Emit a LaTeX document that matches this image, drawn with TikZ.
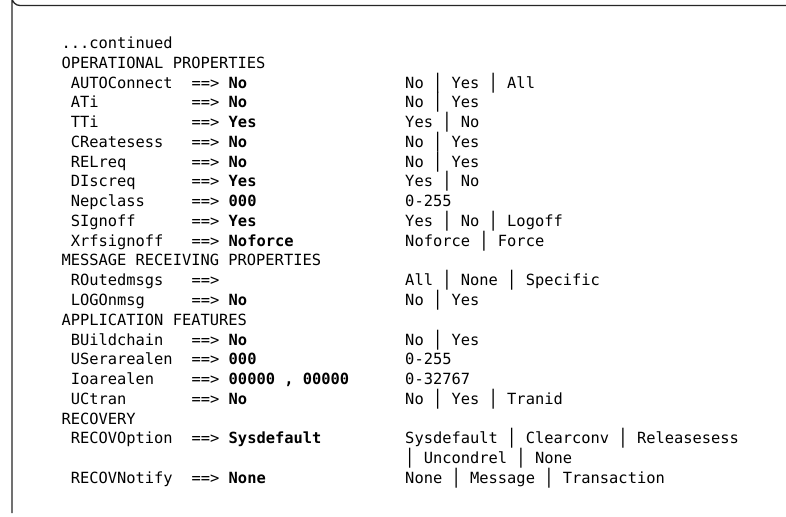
\documentclass[tikz,border=0pt]{standalone}
\usepackage{fontspec}
\usepackage{graphicx}
\newfontfamily\mono{DejaVu Sans Mono}
% column grid of the fixed-pitch listing
\newcommand\cx[1]{61.5+#1*9.29}
\newcommand\by[1]{48.5+#1*19.77}
% tall separator bar, so bars on neighbouring lines meet
\newcommand\vb{\scalebox{1}[1.3]{|}}
\tikzset{
  txt/.style={anchor=base west,inner sep=0pt,outer sep=0pt,font=\mono\fontsize{15.4}{18}\selectfont},
  val/.style={txt,font=\mono\bfseries\fontsize{15.4}{18}\selectfont},
  frame/.style={line width=1.3pt,black!85}
}
% one property line: row, name, current value, allowed values, node prefix
\newcommand\propline[5]{%
  \node[txt] (#5-name) at ({\cx{1}},{\by{#1}}) {#2};
  \node[txt] (#5-arrow) at ({\cx{14}},{\by{#1}}) {==>};
  \node[val] (#5-value) at ({\cx{18}},{\by{#1}}) {#3};
  \node[txt] (#5-opts) at ({\cx{37}},{\by{#1}}) {#4};
}
\newcommand\heading[3]{%
  \node[txt] (#3) at ({\cx{0}},{\by{#1}}) {#2};
}
\begin{document}
\begin{tikzpicture}[x=1pt,y=-1pt]
\useasboundingbox (0,0) rectangle (786,516);
\fill[white] (0,0) rectangle (786,516);

% open frame: top rule and left rule joined by a rounded corner
\draw[frame] (786,5.5) -- (20,5.5) arc[start angle=90,end angle=180,radius=8] -- (12,513);

\heading{0}{...continued}{cont}
\heading{1}{OPERATIONAL PROPERTIES}{secop}
\propline{2}{AUTOConnect}{No}{No \vb{} Yes \vb{} All}{autoc}
\propline{3}{ATi}{No}{No \vb{} Yes}{ati}
\propline{4}{TTi}{Yes}{Yes \vb{} No}{tti}
\propline{5}{CReatesess}{No}{No \vb{} Yes}{creat}
\propline{6}{RELreq}{No}{No \vb{} Yes}{relreq}
\propline{7}{DIscreq}{Yes}{Yes \vb{} No}{discreq}
\propline{8}{Nepclass}{000}{0-255}{nep}
\propline{9}{SIgnoff}{Yes}{Yes \vb{} No \vb{} Logoff}{signoff}
\propline{10}{Xrfsignoff}{Noforce}{Noforce \vb{} Force}{xrf}
\heading{11}{MESSAGE RECEIVING PROPERTIES}{secmsg}
\propline{12}{ROutedmsgs}{}{All \vb{} None \vb{} Specific}{routed}
\propline{13}{LOGOnmsg}{No}{No \vb{} Yes}{logon}
\heading{14}{APPLICATION FEATURES}{secapp}
\propline{15}{BUildchain}{No}{No \vb{} Yes}{build}
\propline{16}{USerarealen}{000}{0-255}{user}
\propline{17}{Ioarealen}{00000 , 00000}{0-32767}{ioarea}
\propline{18}{UCtran}{No}{No \vb{} Yes \vb{} Tranid}{uctran}
\heading{19}{RECOVERY}{secrec}
\propline{20}{RECOVOption}{Sysdefault}{Sysdefault \vb{} Clearconv \vb{} Releasesess}{recopt}
\node[txt] (recopt-more) at ({\cx{37}},{\by{21}}) {\vb{} Uncondrel \vb{} None};
\propline{22}{RECOVNotify}{None}{None \vb{} Message \vb{} Transaction}{recnot}
\end{tikzpicture}
\end{document}
